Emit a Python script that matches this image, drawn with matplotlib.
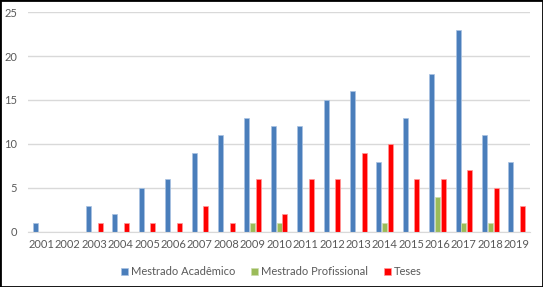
import numpy as np
import matplotlib.pyplot as plt
from matplotlib.patches import Rectangle

plt.rcParams['font.family'] = ['Lato', 'DejaVu Sans']

anos = ['2001', '2002', '2003', '2004', '2005', '2006', '2007', '2008', '2009', '2010',
        '2011', '2012', '2013', '2014', '2015', '2016', '2017', '2018', '2019']
mestrado_academico = [1, 0, 3, 2, 5, 6, 9, 11, 13, 12, 12, 15, 16, 8, 13, 18, 23, 11, 8]
mestrado_profissional = [0, 0, 0, 0, 0, 0, 0, 0, 1, 1, 0, 0, 0, 1, 0, 4, 1, 1, 0]
teses = [0, 0, 1, 1, 1, 1, 3, 1, 6, 2, 6, 6, 9, 10, 6, 6, 7, 5, 3]

fig = plt.figure(figsize=(5.43, 2.87), dpi=100)
ax = fig.add_axes([0.052, 0.192, 0.924, 0.766])

x = np.arange(len(anos))
w = 0.19
ax.bar(x - 0.22, mestrado_academico, w, color='#4a7ebb', edgecolor='#a9c2e2', linewidth=0.5, label='Mestrado Acadêmico')
ax.bar(x, mestrado_profissional, w, color='#9bbb59', edgecolor='#cddcae', linewidth=0.5, label='Mestrado Profissional')
ax.bar(x + 0.22, teses, w, color='#ff0000', edgecolor='#ff9999', linewidth=0.5, label='Teses')

ax.set_xlim(-0.5, len(anos) - 0.5)
ax.set_ylim(0, 25)
ax.set_yticks(range(0, 26, 5))
ax.set_xticks(x)
ax.set_xticklabels(anos)
ax.grid(axis='y', color='#d9d9d9', linewidth=1)
ax.set_axisbelow(True)
for s in ['top', 'right', 'left']:
    ax.spines[s].set_visible(False)
ax.spines['bottom'].set_color('#d9d9d9')
ax.tick_params(length=0, labelsize=8, colors='#595959', pad=5)
ax.tick_params(axis='y', pad=8)

leg = fig.legend(loc='lower center', bbox_to_anchor=(0.5, 0.0), ncol=3, frameon=False,
                 fontsize=8, handlelength=0.6, handleheight=0.6, handletextpad=0.3,
                 columnspacing=1.4, labelcolor='#595959')

fig.patches.append(Rectangle((0, 0), 1, 1, transform=fig.transFigure, fill=False,
                             edgecolor='black', linewidth=2))

fig.savefig('out.png', dpi=100)
